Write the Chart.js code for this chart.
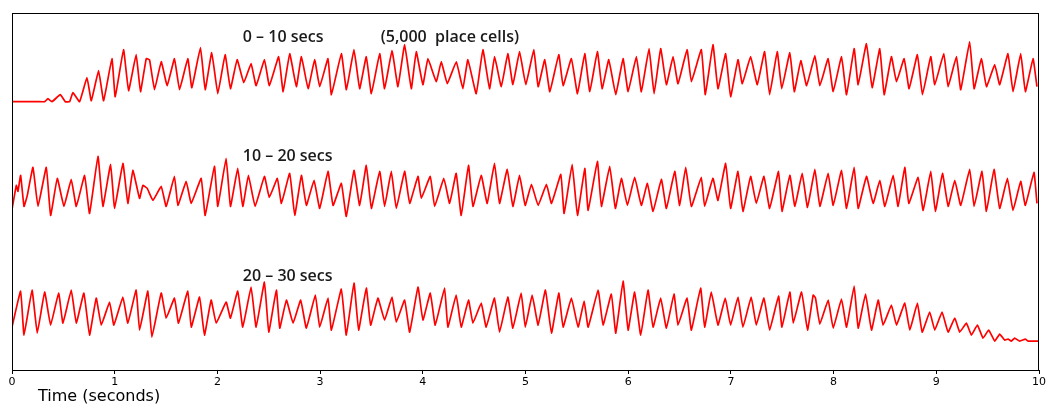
<!DOCTYPE html>
<html>
<head>
<meta charset="utf-8">
<script src="https://cdn.jsdelivr.net/npm/chart.js@4"></script>
<style>
  html, body { margin: 0; padding: 0; background: #fff; }
  #wrap { width: 1048px; height: 405px; position: relative; }
</style>
</head>
<body>
<div id="wrap"><canvas id="myChart"></canvas></div>
<script>
// population activity, three consecutive 10 s windows (time in s, activity in a.u.)
const time0to10 = [
  0, 0.253, 0.318, 0.35, 0.389, 0.47, 0.519, 0.561, 0.593, 0.658,
  0.73, 0.772, 0.843, 0.892, 0.973, 1.005, 1.086, 1.135, 1.209, 1.251,
  1.307, 1.339, 1.388, 1.453, 1.511, 1.582, 1.631, 1.712, 1.751, 1.835,
  1.881, 1.945, 2.004, 2.075, 2.127, 2.192, 2.257, 2.328, 2.377, 2.458,
  2.506, 2.597, 2.64, 2.704, 2.769, 2.818, 2.883, 2.947, 2.996, 3.077,
  3.11, 3.207, 3.256, 3.33, 3.385, 3.45, 3.499, 3.58, 3.628, 3.7,
  3.758, 3.823, 3.888, 3.936, 4.001, 4.05, 4.131, 4.18, 4.238, 4.326,
  4.39, 4.439, 4.52, 4.585, 4.65, 4.699, 4.764, 4.828, 4.877, 4.942,
  5.003, 5.081, 5.123, 5.188, 5.237, 5.324, 5.366, 5.447, 5.506, 5.577,
  5.626, 5.7, 5.746, 5.811, 5.879, 5.95, 5.999, 6.08, 6.128, 6.203,
  6.252, 6.316, 6.372, 6.437, 6.485, 6.573, 6.615, 6.712, 6.751, 6.825,
  6.874, 6.949, 6.997, 7.069, 7.111, 7.192, 7.257, 7.328, 7.377, 7.451,
  7.495, 7.574, 7.617, 7.681, 7.737, 7.818, 7.866, 7.947, 7.996, 8.077,
  8.126, 8.2, 8.239, 8.32, 8.375, 8.45, 8.492, 8.563, 8.612, 8.687,
  8.735, 8.816, 8.865, 8.946, 8.985, 9.073, 9.115, 9.196, 9.238, 9.325,
  9.368, 9.439, 9.488, 9.569, 9.617, 9.698, 9.747, 9.822, 9.867, 9.942,
  9.98
];
const activity0to10 = [
  0, 0, 0, 3, 0, 7, 0, 0, 9, 0,
  24, 1, 31, 1, 43, 5, 52, 11, 47, 10,
  43, 42, 12, 40, 16, 43, 12, 43, 14, 54,
  12, 49, 8, 47, 13, 42, 19, 38, 16, 42,
  16, 45, 10, 48, 15, 45, 13, 42, 15, 43,
  7, 48, 12, 52, 13, 45, 8, 48, 13, 51,
  15, 57, 13, 50, 17, 43, 20, 40, 18, 40,
  13, 42, 8, 52, 13, 45, 15, 48, 17, 50,
  17, 52, 15, 42, 10, 47, 16, 43, 8, 48,
  10, 50, 13, 42, 7, 43, 10, 45, 10, 53,
  8, 53, 17, 45, 18, 52, 20, 52, 7, 57,
  13, 48, 5, 42, 18, 45, 17, 50, 7, 50,
  13, 49, 10, 41, 16, 46, 16, 43, 10, 45,
  7, 53, 17, 58, 14, 53, 7, 45, 20, 43,
  13, 47, 7, 45, 17, 48, 15, 45, 12, 60,
  13, 43, 15, 37, 17, 48, 10, 48, 10, 43,
  15
];

const time10to20 = [
  0, 0.042, 0.058, 0.084, 0.117, 0.149, 0.204, 0.253, 0.334, 0.376,
  0.441, 0.506, 0.577, 0.626, 0.707, 0.755, 0.837, 0.885, 0.96, 0.999,
  1.08, 1.128, 1.177, 1.242, 1.274, 1.317, 1.372, 1.453, 1.501, 1.582,
  1.615, 1.696, 1.745, 1.842, 1.881, 1.971, 2.004, 2.085, 2.127, 2.198,
  2.247, 2.302, 2.367, 2.458, 2.505, 2.584, 2.623, 2.704, 2.753, 2.818,
  2.866, 2.941, 2.996, 3.077, 3.126, 3.207, 3.255, 3.33, 3.385, 3.45,
  3.499, 3.58, 3.628, 3.693, 3.742, 3.823, 3.872, 3.953, 3.985, 4.073,
  4.115, 4.205, 4.261, 4.325, 4.374, 4.445, 4.488, 4.569, 4.627, 4.698,
  4.747, 4.822, 4.877, 4.942, 4.997, 5.058, 5.123, 5.204, 5.253, 5.344,
  5.376, 5.454, 5.506, 5.577, 5.61, 5.7, 5.739, 5.82, 5.875, 5.934,
  5.992, 6.063, 6.128, 6.187, 6.242, 6.323, 6.372, 6.453, 6.501, 6.56,
  6.615, 6.712, 6.744, 6.825, 6.874, 6.949, 6.997, 7.069, 7.117, 7.192,
  7.247, 7.322, 7.377, 7.464, 7.497, 7.574, 7.623, 7.694, 7.746, 7.818,
  7.866, 7.947, 7.996, 8.077, 8.126, 8.2, 8.239, 8.32, 8.385, 8.45,
  8.499, 8.58, 8.628, 8.693, 8.732, 8.823, 8.872, 8.946, 8.991, 9.06,
  9.115, 9.18, 9.238, 9.325, 9.368, 9.445, 9.488, 9.562, 9.617, 9.692,
  9.747, 9.822, 9.867, 9.951, 9.98
];
const activity10to20 = [
  12, 36, 30, 46, 15, 26, 54, 15, 54, 6,
  43, 15, 42, 15, 46, 8, 65, 15, 57, 13,
  58, 18, 51, 23, 36, 33, 21, 35, 15, 45,
  16, 40, 18, 43, 6, 55, 15, 63, 15, 53,
  15, 46, 15, 45, 24, 43, 18, 48, 6, 46,
  16, 41, 13, 50, 16, 38, 5, 51, 16, 56,
  13, 50, 15, 50, 13, 50, 18, 45, 23, 45,
  15, 43, 18, 48, 6, 56, 15, 46, 18, 58,
  18, 52, 15, 46, 16, 37, 16, 37, 18, 47,
  8, 57, 6, 53, 11, 60, 15, 55, 13, 43,
  16, 44, 16, 38, 10, 42, 13, 50, 16, 54,
  15, 44, 15, 43, 21, 58, 13, 50, 10, 45,
  18, 45, 13, 50, 10, 46, 15, 48, 14, 52,
  15, 48, 16, 51, 13, 54, 13, 45, 18, 41,
  15, 46, 15, 54, 18, 44, 11, 50, 10, 48,
  15, 41, 16, 52, 15, 50, 10, 52, 13, 43,
  11, 40, 16, 49, 18
];

const time20to30 = [
  0, 0.084, 0.117, 0.195, 0.246, 0.318, 0.376, 0.454, 0.496, 0.577,
  0.626, 0.7, 0.755, 0.82, 0.869, 0.95, 0.992, 1.08, 1.128, 1.209,
  1.242, 1.323, 1.362, 1.453, 1.501, 1.582, 1.621, 1.712, 1.745, 1.826,
  1.874, 1.939, 1.988, 2.085, 2.127, 2.198, 2.247, 2.328, 2.377, 2.458,
  2.5, 2.574, 2.607, 2.672, 2.737, 2.811, 2.866, 2.954, 2.996, 3.077,
  3.11, 3.207, 3.255, 3.33, 3.375, 3.45, 3.492, 3.563, 3.628, 3.7,
  3.742, 3.823, 3.872, 3.953, 4.001, 4.073, 4.121, 4.212, 4.244, 4.325,
  4.374, 4.445, 4.488, 4.569, 4.617, 4.698, 4.747, 4.828, 4.877, 4.958,
  4.998, 5.065, 5.123, 5.194, 5.253, 5.324, 5.366, 5.447, 5.512, 5.571,
  5.61, 5.707, 5.755, 5.836, 5.879, 5.95, 5.999, 6.063, 6.122, 6.193,
  6.242, 6.316, 6.372, 6.446, 6.485, 6.573, 6.615, 6.705, 6.744, 6.809,
  6.874, 6.945, 6.997, 7.069, 7.117, 7.198, 7.247, 7.322, 7.377, 7.464,
  7.497, 7.574, 7.607, 7.688, 7.746, 7.801, 7.824, 7.866, 7.947, 7.996,
  8.077, 8.126, 8.2, 8.239, 8.311, 8.369, 8.434, 8.482, 8.563, 8.612,
  8.693, 8.742, 8.816, 8.862, 8.936, 8.985, 9.056, 9.115, 9.18, 9.228,
  9.293, 9.342, 9.4, 9.455, 9.51, 9.569, 9.617, 9.666, 9.698, 9.731,
  9.763, 9.812, 9.867, 9.893, 10
];
const activity20to30 = [
  14, 50, 6, 51, 8, 49, 16, 48, 18, 51,
  18, 48, 6, 43, 16, 39, 16, 44, 18, 51,
  11, 50, 4, 48, 23, 43, 18, 50, 14, 44,
  6, 41, 18, 39, 23, 50, 14, 54, 14, 59,
  9, 51, 13, 41, 18, 41, 13, 46, 14, 43,
  11, 52, 6, 58, 11, 53, 16, 43, 21, 44,
  19, 41, 9, 54, 21, 48, 16, 53, 14, 46,
  14, 41, 18, 38, 14, 43, 9, 44, 13, 48,
  14, 46, 16, 51, 8, 48, 14, 43, 14, 40,
  14, 51, 16, 47, 8, 60, 11, 49, 6, 51,
  14, 43, 13, 47, 16, 43, 11, 53, 14, 49,
  16, 43, 16, 44, 14, 44, 16, 43, 11, 45,
  14, 49, 18, 49, 11, 46, 43, 17, 41, 13,
  42, 14, 55, 13, 47, 11, 41, 16, 36, 16,
  38, 11, 38, 9, 29, 11, 29, 9, 23, 9,
  18, 6, 16, 3, 11, 0, 7, 1, 2, 0,
  3, 0, 2, 0, 0
];

const windowLabels = ['0 \u2013 10 secs', '10 \u2013 20 secs', '20 \u2013 30 secs'];
const cellCountLabel = '(5,000  place cells)';
const xTicks = [0, 1, 2, 3, 4, 5, 6, 7, 8, 9, 10];

// stacking: each window sits on its own baseline, top to bottom
const traces = [
  { t: time0to10, a: activity0to10, base: 268.3 },
  { t: time10to20, a: activity10to20, base: 148.6 },
  { t: time20to30, a: activity20to30, base: 28.9 }
];
const labelRise = 64.7;

const datasets = traces.map(tr => ({
  data: tr.t.map((t, i) => ({ x: t, y: tr.base + tr.a[i] })),
  borderColor: '#ff0000',
  borderWidth: 1.7,
  borderJoinStyle: 'round',
  pointRadius: 0,
  tension: 0.1,
  fill: false
}));

const decorations = {
  id: 'decorations',
  afterDraw(chart) {
    const { ctx, chartArea: a, scales: { x, y } } = chart;
    ctx.save();
    // plot frame
    ctx.strokeStyle = '#000';
    ctx.lineWidth = 1;
    ctx.strokeRect(a.left + 0.5, a.top + 0.5, a.right - a.left - 1, a.bottom - a.top);

    ctx.fillStyle = '#1a1a1a';
    ctx.textBaseline = 'middle';
    ctx.textAlign = 'left';
    ctx.font = '600 16px "Open Sans", sans-serif';
    traces.forEach((tr, i) => {
      ctx.fillText(windowLabels[i], x.getPixelForValue(2.247), y.getPixelForValue(tr.base + labelRise));
    });
    ctx.fillText(cellCountLabel, x.getPixelForValue(3.59), y.getPixelForValue(traces[0].base + labelRise));

    ctx.font = '16px "DejaVu Sans", sans-serif';
    ctx.fillStyle = '#000';
    ctx.fillText('Time (seconds)', 38, 397);
    ctx.restore();
  }
};

new Chart(document.getElementById('myChart'), {
  type: 'line',
  data: { datasets },
  options: {
    responsive: true,
    maintainAspectRatio: false,
    animation: false,
    devicePixelRatio: 1,
    layout: { padding: { left: 12, right: 8, top: 13, bottom: 0 } },
    plugins: { legend: { display: false }, tooltip: { enabled: false } },
    scales: {
      x: {
        type: 'linear',
        min: 0,
        max: 10,
        afterBuildTicks: s => { s.ticks = xTicks.map(v => ({ value: v })); },
        afterFit: s => { s.height = 35; },
        ticks: { color: '#000', font: { family: 'DejaVu Sans', size: 11 }, padding: 2, maxRotation: 0 },
        grid: { drawOnChartArea: false, tickLength: 4, color: '#000' },
        border: { color: '#000' }
      },
      y: { display: false, min: 0, max: 357 }
    }
  },
  plugins: [decorations]
});
</script>
</body>
</html>
